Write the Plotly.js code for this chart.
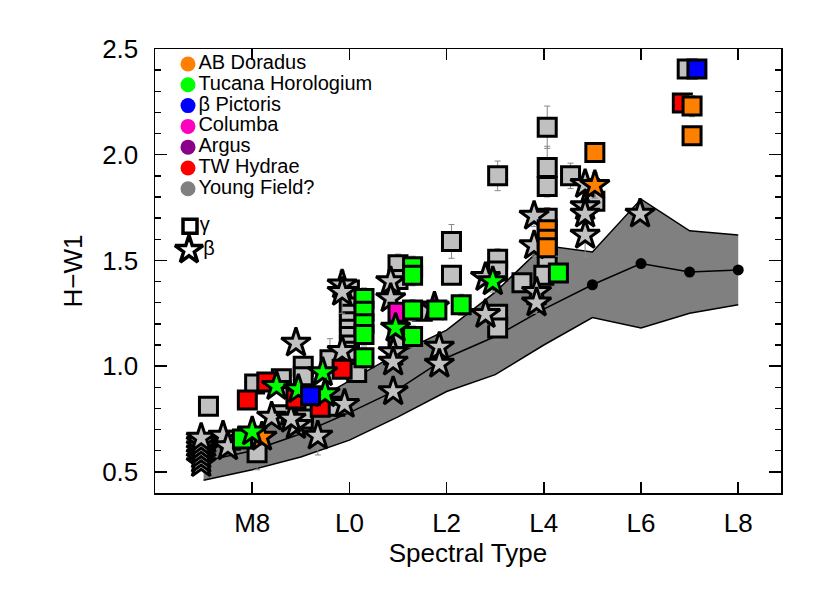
<!DOCTYPE html>
<html>
<head>
<meta charset="utf-8">
<script src="https://cdn.plot.ly/plotly-3.0.1.min.js"></script>
<style>
  body { margin: 0; background: #fff; }
  #plot { width: 830px; height: 593px; }
</style>
</head>
<body>
<div id="plot"></div>
<script>
// field sequence band (spectral type 7 = M7 ... 18 = L8)
const bandSpt = [7, 8, 9, 10, 11, 12, 13, 14, 15, 16, 17, 18];
const bandUpper = [0.64, 0.69, 0.80, 0.93, 1.06, 1.17, 1.35, 1.57, 1.54, 1.79, 1.64, 1.62];
const bandMedian = [0.55, 0.60, 0.68, 0.78, 0.89, 1.04, 1.14, 1.27, 1.385, 1.485, 1.445, 1.455];
const bandLower = [0.46, 0.51, 0.57, 0.65, 0.76, 0.88, 0.96, 1.10, 1.23, 1.18, 1.25, 1.29];

// young field objects
const fieldGammaSpt = [7.1, 7.55, 8.1, 8.05, 8.6, 8.6, 9.05, 9.05, 9.05, 9.05, 9.6, 9.7, 10.15,
  10.0, 10.0, 10.0, 10.0, 10.0, 10.0, 10.0, 10.0, 10.0, 11.0, 11.0, 11.0, 11.5, 12.1, 12.1,
  13.05, 13.05, 13.05, 13.05, 13.05, 13.55, 14.07, 14.07, 14.07, 14.07, 14.07, 14.0, 14.55, 15.05, 16.95];
const fieldGammaHW1 = [0.81, 0.65, 0.59, 0.915, 0.94, 0.77, 1.0, 0.95, 0.78, 0.75, 1.03, 0.81, 0.97,
  1.36, 1.32, 1.28, 1.245, 1.21, 1.175, 1.14, 1.10, 1.07, 1.48, 1.41, 1.13, 1.26, 1.59, 1.43,
  1.90, 1.505, 1.45, 1.245, 1.18, 1.395, 2.13, 1.94, 1.85, 1.70, 1.51, 1.43, 1.90, 1.78, 2.405];
const fieldGammaErr = [0.03, 0.03, 0.08, 0.04, 0.04, 0.04, 0.04, 0.04, 0.04, 0.04, 0.1, 0.04, 0.04,
  0.05, 0.05, 0.05, 0.05, 0.05, 0.05, 0.05, 0.05, 0.05, 0.05, 0.05, 0.05, 0.04, 0.08, 0.04,
  0.07, 0.05, 0.05, 0.06, 0.06, 0.04, 0.1, 0.1, 0.05, 0.05, 0.05, 0.05, 0.06, 0.05, 0.02];

const fieldBetaSpt = [6.95, 6.95, 6.95, 6.95, 6.95, 6.95, 6.95, 7.4, 7.5, 8.4, 8.9, 8.8, 8.9, 9.35,
  9.9, 9.85, 9.85, 9.85, 10.85, 10.85, 10.9, 10.9, 10.9, 11.85, 11.85, 12.8, 12.8,
  13.8, 13.8, 13.85, 13.85, 14.85, 14.85, 14.85, 14.85, 15.98];
const fieldBetaHW1 = [0.54, 0.56, 0.58, 0.60, 0.62, 0.64, 0.66, 0.67, 0.62, 0.76, 0.72, 0.75, 1.11, 0.67,
  0.82, 1.385, 1.35, 1.07, 1.40, 1.32, 1.065, 1.02, 0.88, 1.09, 1.01, 1.42, 1.245,
  1.71, 1.57, 1.35, 1.30, 1.86, 1.755, 1.72, 1.62, 1.72];
const fieldBetaErr = [0.03, 0.03, 0.03, 0.03, 0.03, 0.03, 0.03, 0.03, 0.03, 0.04, 0.04, 0.04, 0.03, 0.09,
  0.04, 0.05, 0.1, 0.04, 0.05, 0.05, 0.04, 0.04, 0.04, 0.04, 0.04, 0.04, 0.05,
  0.05, 0.05, 0.05, 0.05, 0.05, 0.05, 0.04, 0.1, 0.05];

// moving group members
const abdorGammaSpt = [14.07, 14.07, 14.07, 15.05, 17.05, 17.05];
const abdorGammaHW1 = [1.645, 1.60, 1.56, 2.01, 2.23, 2.09];
const abdorGammaErr = [0.03, 0.03, 0.03, 0.03, 0.05, 0.03];
const abdorBetaSpt = [8.2, 15.05];
const abdorBetaHW1 = [0.665, 1.855];
const abdorBetaErr = [0.03, 0.06];

const tucGammaSpt = [7.8, 10.3, 10.3, 10.3, 10.3, 10.3, 11.3, 11.3, 11.3, 11.3, 11.8, 12.3, 14.3];
const tucGammaHW1 = [0.655, 1.32, 1.26, 1.20, 1.15, 1.04, 1.47, 1.43, 1.265, 1.14, 1.265, 1.29, 1.44];
const tucGammaErr = [0.04, 0.05, 0.05, 0.05, 0.05, 0.05, 0.05, 0.05, 0.05, 0.05, 0.04, 0.05, 0.08];
const tucBetaSpt = [8.0, 8.5, 8.95, 9.45, 9.5, 10.95, 12.95];
const tucBetaHW1 = [0.69, 0.905, 0.89, 0.97, 0.87, 1.18, 1.40];
const tucBetaErr = [0.03, 0.03, 0.03, 0.03, 0.03, 0.04, 0.05];

const bpicGammaSpt = [9.2, 17.15];
const bpicGammaHW1 = [0.86, 2.405];
const bpicGammaErr = [0.03, 0.02];

const colGammaSpt = [11.0];
const colGammaHW1 = [1.255];
const colGammaErr = [0.04];

const argBetaSpt = [11.75];
const argBetaHW1 = [1.28];
const argBetaErr = [0.04];

const twaGammaSpt = [7.9, 8.3, 8.9, 9.4, 9.85, 16.85];
const twaGammaHW1 = [0.84, 0.925, 0.845, 0.805, 0.985, 2.245];
const twaGammaErr = [0.04, 0.04, 0.04, 0.04, 0.04, 0.03];

// legend
const groupNames = ["AB Doradus", "Tucana Horologium", "\u03b2 Pictoris", "Columba", "Argus", "TW Hydrae", "Young Field?"];
const groupColors = ["#ff8000", "#00ff00", "#0000ff", "#ff00c0", "#8b008b", "#ff0000", "#808080"];
const gravityNames = ["\u03b3", "\u03b2"];

const tickVals = [8, 10, 12, 14, 16, 18];
const tickText = ["M8", "L0", "L2", "L4", "L6", "L8"];

const FIELD_FILL = "#c0c0c0";

function points(spt, hw1, err, fill, symbol) {
  const isStar = symbol === "star";
  return {
    x: spt,
    y: hw1,
    type: "scatter",
    mode: "markers",
    showlegend: false,
    hoverinfo: "skip",
    error_y: { type: "data", array: err, color: "#888", thickness: 1, width: 3 },
    marker: {
      symbol: symbol,
      size: isStar ? 22 : 18,
      color: fill,
      opacity: 1,
      line: { color: "black", width: 3 },
    },
  };
}

const traces = [];

// band
traces.push({
  x: bandSpt, y: bandLower, type: "scatter", mode: "lines",
  line: { color: "black", width: 1.5 }, showlegend: false, hoverinfo: "skip",
});
traces.push({
  x: bandSpt, y: bandUpper, type: "scatter", mode: "lines", fill: "tonexty",
  fillcolor: "#808080", line: { color: "black", width: 1.5 }, showlegend: false, hoverinfo: "skip",
});

// median line with dots for the late types
traces.push({
  x: bandSpt, y: bandMedian, type: "scatter", mode: "lines",
  line: { color: "black", width: 1.5 }, showlegend: false, hoverinfo: "skip",
});
const dotIdx = bandSpt.map((s, i) => i).filter((i) => bandSpt[i] >= 15);
traces.push({
  x: dotIdx.map((i) => bandSpt[i]), y: dotIdx.map((i) => bandMedian[i]),
  type: "scatter", mode: "markers", marker: { color: "black", size: 11 },
  showlegend: false, hoverinfo: "skip",
});

// data points (later traces sit on top)
traces.push(points(fieldGammaSpt, fieldGammaHW1, fieldGammaErr, FIELD_FILL, "square"));
traces.push(points(fieldBetaSpt, fieldBetaHW1, fieldBetaErr, FIELD_FILL, "star"));
traces.push(points(argBetaSpt, argBetaHW1, argBetaErr, groupColors[4], "star"));
traces.push(points(colGammaSpt, colGammaHW1, colGammaErr, groupColors[3], "square"));
traces.push(points(twaGammaSpt, twaGammaHW1, twaGammaErr, groupColors[5], "square"));
traces.push(points(abdorGammaSpt, abdorGammaHW1, abdorGammaErr, groupColors[0], "square"));
traces.push(points(tucGammaSpt, tucGammaHW1, tucGammaErr, groupColors[1], "square"));
traces.push(points(abdorBetaSpt, abdorBetaHW1, abdorBetaErr, groupColors[0], "star"));
traces.push(points(tucBetaSpt, tucBetaHW1, tucBetaErr, groupColors[1], "star"));
traces.push(points(bpicGammaSpt, bpicGammaHW1, bpicGammaErr, groupColors[2], "square"));

// legend drawn on a hidden helper axis (one row per entry)
const legendFont = { family: "Liberation Sans, Arial, sans-serif", size: 20, color: "black" };
const rows = groupNames.map((n, i) => i);
traces.push({
  x: rows.map(() => 0), y: rows, text: groupNames,
  xaxis: "x2", yaxis: "y2", type: "scatter", mode: "markers+text",
  textposition: "middle right",
  textfont: legendFont,
  marker: { color: groupColors, size: 15, opacity: 1 },
  showlegend: false, hoverinfo: "skip", cliponaxis: false,
});
const symRows = [groupNames.length + 0.8, groupNames.length + 1.95];
traces.push({
  x: [2, 1], y: symRows, text: gravityNames,
  xaxis: "x2", yaxis: "y2", type: "scatter", mode: "markers+text",
  textposition: "middle right",
  textfont: legendFont,
  marker: { symbol: ["square", "star"], size: [14, 21], color: "white", opacity: 1, line: { color: "black", width: 3.5 } },
  showlegend: false, hoverinfo: "skip", cliponaxis: false,
});

const axisFont = { family: "Liberation Sans, Arial, sans-serif", size: 26, color: "black" };

const layout = {
  width: 830,
  height: 593,
  margin: { l: 155, r: 49, t: 49, b: 100 },
  paper_bgcolor: "white",
  plot_bgcolor: "white",
  showlegend: false,
  font: axisFont,
  xaxis: {
    range: [6.0, 18.88],
    tickvals: tickVals,
    ticktext: tickText,
    ticks: "inside",
    ticklen: 11,
    tickwidth: 1.5,
    tickcolor: "black",
    showline: true,
    linewidth: 1.5,
    linecolor: "black",
    mirror: "ticks",
    showgrid: false,
    zeroline: false,
    tickfont: axisFont,
    ticklabelstandoff: 6,
    title: { text: "Spectral Type", font: axisFont, standoff: 4 },
  },
  yaxis: {
    range: [0.4, 2.5],
    tick0: 0.5,
    dtick: 0.5,
    tickformat: ".1f",
    ticks: "inside",
    ticklen: 12,
    tickwidth: 1.5,
    tickcolor: "black",
    minor: { dtick: 0.1, ticks: "inside", ticklen: 6, tickwidth: 1.5, tickcolor: "black" },
    showline: true,
    linewidth: 1.5,
    linecolor: "black",
    mirror: "ticks",
    showgrid: false,
    zeroline: false,
    tickfont: axisFont,
    ticklabelstandoff: 10,
    title: { text: "H\u2212W1", font: axisFont, standoff: 12 },
  },
  xaxis2: { overlaying: "x", range: [-33, 593], visible: false, fixedrange: true },
  yaxis2: { overlaying: "y", range: [20.63, -0.721], visible: false, fixedrange: true },
};

Plotly.newPlot("plot", traces, layout, { staticPlot: true });
</script>
</body>
</html>
